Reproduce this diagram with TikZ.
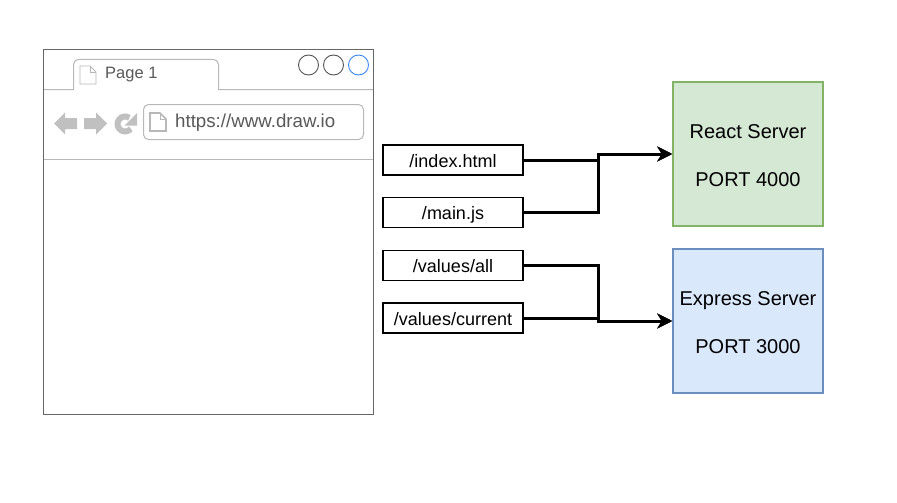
\documentclass[tikz,border=0pt]{standalone}
\usepackage{fontspec}
\setmainfont{Liberation Sans}
\usetikzlibrary{arrows.meta}
\definecolor{tgray}{HTML}{666666}
\definecolor{lgray}{HTML}{B8B8B8}
\definecolor{igray}{HTML}{C0C0C0}
\definecolor{ggreen}{HTML}{82B366}
\definecolor{gfill}{HTML}{D5E8D4}
\definecolor{bblue}{HTML}{6C8EBF}
\definecolor{bfill}{HTML}{DAE8FC}
\definecolor{winblue}{HTML}{3C87F5}
\definecolor{wingray}{HTML}{555555}
\newcommand{\firstline}{\rule{0pt}{16.4pt}}
\tikzset{
  x=1pt,y=-1pt,
  route/.style={draw=black,line width=1.8pt,fill=white,minimum width=140pt,minimum height=30pt,inner sep=0pt,text height=14pt,text depth=0pt,font=\fontsize{18}{20}\selectfont},
  server/.style={line width=1.5pt,minimum width=150pt,minimum height=144pt,inner sep=0pt,font=\fontsize{20}{24}\selectfont,align=center},
  conn/.style={line width=3pt,draw=black},
  arrowconn/.style={conn,-{Stealth[length=15pt,width=15pt,inset=4.5pt]}},
  winbtn/.style={circle,draw=#1,line width=.9pt,minimum size=20pt,inner sep=0pt},
  graytext/.style={text=black!65,inner sep=0pt,anchor=west},
  docicon/.style={draw=lgray,line width=.9pt,fill=white},
}
\begin{document}
\begin{tikzpicture}
\useasboundingbox (0,0) rectangle (897,503);
% browser
\node[draw=tgray,line width=.9pt,fill=white,minimum width=330pt,minimum height=365pt,inner sep=0pt] (browser) at (208.5,232) {};
\draw[lgray,line width=1pt] (44,89.5) -- (73.5,89.5) [rounded corners=5pt] -- (73.5,59.5) -- (218.5,59.5) [sharp corners] -- (218.5,89.5) -- (373,89.5);
\draw[lgray,line width=1pt] (44,159.5) -- (373,159.5);
\draw[docicon] (80,66) -- (90,66) -- (96,72) -- (96,84) -- (80,84) -- cycle;
\draw[lgray,line width=.6pt] (90,66) -- (90,72) -- (96,72);
\node[graytext,font=\fontsize{16.5}{20}\selectfont] (tab) at (105,74.5) {Page 1};
\node[winbtn=wingray] (b1) at (308.5,65) {};
\node[winbtn=wingray] (b2) at (333.5,65) {};
\node[winbtn=winblue] (b3) at (358.5,65) {};
% nav icons
\fill[igray] (54,123.5) -- (65,112.5) -- (65,118) -- (77,118) -- (77,129) -- (65,129) -- (65,134.5) -- cycle;
\fill[igray] (107,123.5) -- (96,112.5) -- (96,118) -- (84,118) -- (84,129) -- (96,129) -- (96,134.5) -- cycle;
\draw[igray,line width=6pt] (130.8,128.8) arc[start angle=40,end angle=305,radius=7.5];
\fill[igray] (137,113) -- (137,125.5) -- (124.5,125.5) -- cycle;
\draw[lgray,line width=1pt,rounded corners=5pt,fill=white] (143.5,104.5) rectangle (363.5,139.5);
\draw[lgray,line width=1.6pt] (150,113) -- (160,113) -- (166,119) -- (166,131) -- (150,131) -- cycle;
\draw[lgray,line width=.6pt] (160,113) -- (160,119) -- (166,119);
\node[graytext,font=\fontsize{18.7}{20}\selectfont] (url) at (175,122.5) {https://www.draw.io};
% routes
\node[route] (r1) at (453,160) {/index.html};
\node[route] (r2) at (453,212.5) {/main.js};
\node[route] (r3) at (453,265.5) {/values/all};
\node[route] (r4) at (453,318) {/values/current};
% servers
\node[server,draw=ggreen,fill=gfill] (react) at (748,154) {\firstline React Server\\[24pt]PORT 4000};
\node[server,draw=bblue,fill=bfill] (express) at (748,321) {\firstline Express Server\\[24pt]PORT 3000};
% connectors
\coordinate (j1) at (598.5,154);
\coordinate (j2) at (598.5,321);
\draw[arrowconn] (r1.east) -| (j1) -- (react.west);
\draw[arrowconn] (r2.east) -| (j1) -- (react.west);
\draw[arrowconn] (r3.east) -| (j2) -- (express.west);
\draw[arrowconn] (r4.east) -| (j2) -- (express.west);
\end{tikzpicture}
\end{document}
